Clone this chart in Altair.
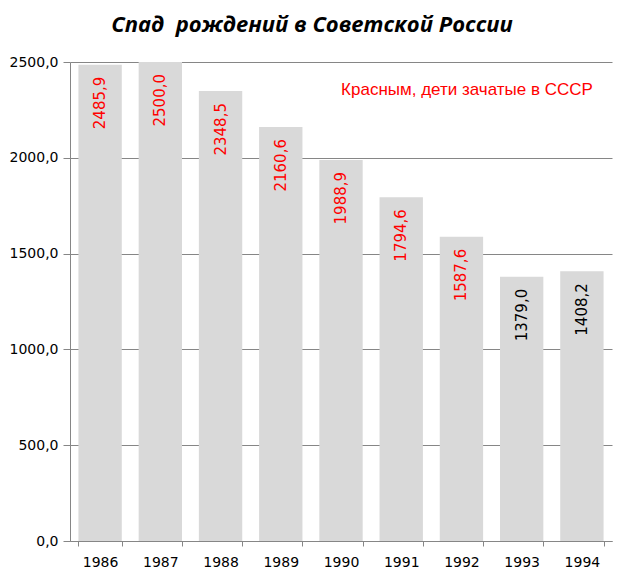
import altair as alt
import pandas as pd

years = [1986, 1987, 1988, 1989, 1990, 1991, 1992, 1993, 1994]
births = [2485.9, 2500.0, 2348.5, 2160.6, 1988.9, 1794.6, 1587.6, 1379.0, 1408.2]
title_text = "Спад\u00a0 рождений в Советской России"
note_text = "Красным, дети зачатые в СССР"
last_soviet_year = 1992

df = pd.DataFrame({"year": years, "births": births})

base = alt.Chart(df).transform_calculate(
    label="replace(format(datum.births, '.1f'), '.', ',')"
)

bars = base.mark_bar(color="#d9d9d9").encode(
    x=alt.X("year:O", title=None,
            scale=alt.Scale(paddingInner=0.28, paddingOuter=0.14),
            axis=alt.Axis(labelAngle=0, tickBand="extent", tickSize=5,
                          labelFont="DejaVu Sans", labelFontSize=14,
                          labelColor="#000000", labelPadding=9,
                          domainColor="#868686", tickColor="#868686",
                          grid=False)),
    y=alt.Y("births:Q", title=None,
            scale=alt.Scale(domain=[0, 2500], nice=False),
            axis=alt.Axis(values=[0, 500, 1000, 1500, 2000, 2500],
                          labelExpr="replace(format(datum.value, '.1f'), '.', ',')",
                          labelFont="DejaVu Sans", labelFontSize=14,
                          labelColor="#000000", labelPadding=5,
                          tickSize=7, domainColor="#868686", tickColor="#868686",
                          gridColor="#868686", gridWidth=1)),
)

labels = base.mark_text(angle=270, align="right", baseline="middle", dx=-12,
                        font="DejaVu Sans", fontSize=15).encode(
    x="year:O",
    y="births:Q",
    text="label:N",
    color=alt.condition(alt.datum.year <= last_soviet_year,
                        alt.value("#ff0000"), alt.value("#000000")),
)

note = alt.Chart(pd.DataFrame({"t": [note_text]})).mark_text(
    font="Liberation Sans", fontSize=17, color="#ff0000", align="center", baseline="middle"
).encode(text="t:N", x=alt.value(397), y=alt.value(28))

title = alt.Chart(pd.DataFrame({"t": [title_text]})).mark_text(
    font="Open Sans", fontSize=22, fontWeight="bold", fontStyle="italic",
    color="#000000", align="center", baseline="middle"
).encode(text="t:N", x=alt.value(242), y=alt.value(-37))

chart = alt.layer(bars, labels, note, title).properties(
    width=542, height=479,
    autosize=alt.AutoSizeParams(type="none"),
    padding={"left": 70, "top": 62, "right": 8, "bottom": 42},
    background="#ffffff",
).configure_view(stroke=None)

chart.save("out.html", embed_options={"renderer": "svg", "actions": False})
